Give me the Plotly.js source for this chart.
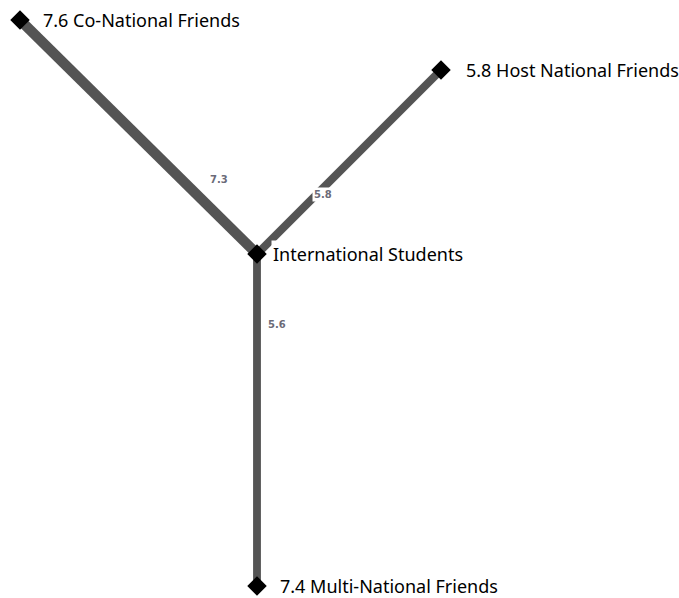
<!DOCTYPE html>
<html>
<head>
<meta charset="utf-8">
<script src="https://cdn.plot.ly/plotly-3.0.1.min.js"></script>
<style>html,body{margin:0;padding:0;background:#fff;}#chart{width:679px;height:598px;}</style>
</head>
<body>
<div id="chart"></div>
<script>
// Nodes (graph layout positions in chart units) and their values
const nodeNames = ["International Students", "Co-National Friends", "Host National Friends", "Multi-National Friends"];
const nodeValues = [null, 7.6, 5.8, 7.4];
const nodeX = [257, 20, 441, 257];
const nodeY = [254, 20, 70, 586];
// Edges and weights
const edgeFrom = [0, 0, 0];
const edgeTo = [1, 2, 3];
const edgeWeights = [7.3, 5.8, 5.6];
// label placement (layout)
const nodeLabelX = [271, 41, 464, 278];
const edgeLabelX = [219, 323, 277];
const edgeLabelY = [179, 194, 324];

const traces = [];
const annotations = [];
for (let i = 0; i < edgeFrom.length; i++) {
  const a = edgeFrom[i], b = edgeTo[i];
  traces.push({
    type: 'scatter', mode: 'lines',
    x: [nodeX[a], nodeX[b]], y: [nodeY[a], nodeY[b]],
    line: {color: '#545454', width: edgeWeights[i] * 1.4},
    hoverinfo: 'skip', showlegend: false
  });
  annotations.push({
    x: edgeLabelX[i], y: edgeLabelY[i], xref: 'x', yref: 'y',
    text: edgeWeights[i].toFixed(1), showarrow: false,
    font: {family: 'DejaVu Sans', size: 10, color: '#6b6b78', weight: 'bold'},
    bgcolor: i === 1 ? '#ffffff' : 'rgba(0,0,0,0)', borderpad: 1
  });
}
traces.push({
  type: 'scatter', mode: 'markers',
  x: nodeX, y: nodeY,
  marker: {symbol: 'diamond', size: 15, color: '#000000'},
  hoverinfo: 'skip', showlegend: false
});
for (let i = 0; i < nodeNames.length; i++) {
  annotations.push({
    x: nodeLabelX[i], y: nodeY[i], xref: 'x', yref: 'y',
    xanchor: 'left', yanchor: 'middle',
    text: (nodeValues[i] === null ? '' : nodeValues[i].toFixed(1) + ' ') + nodeNames[i],
    showarrow: false,
    font: {family: 'Noto Sans', size: 18, color: '#000000'},
    bgcolor: '#ffffff', borderpad: 1
  });
}

const layout = {
  width: 679, height: 598,
  margin: {l: 0, r: 0, t: 0, b: 0},
  paper_bgcolor: '#ffffff', plot_bgcolor: '#ffffff',
  xaxis: {range: [0, 679], visible: false, fixedrange: true},
  yaxis: {range: [598, 0], visible: false, fixedrange: true},
  annotations: annotations,
  showlegend: false
};
Plotly.newPlot('chart', traces, layout, {displayModeBar: false, staticPlot: true});
</script>
</body>
</html>
